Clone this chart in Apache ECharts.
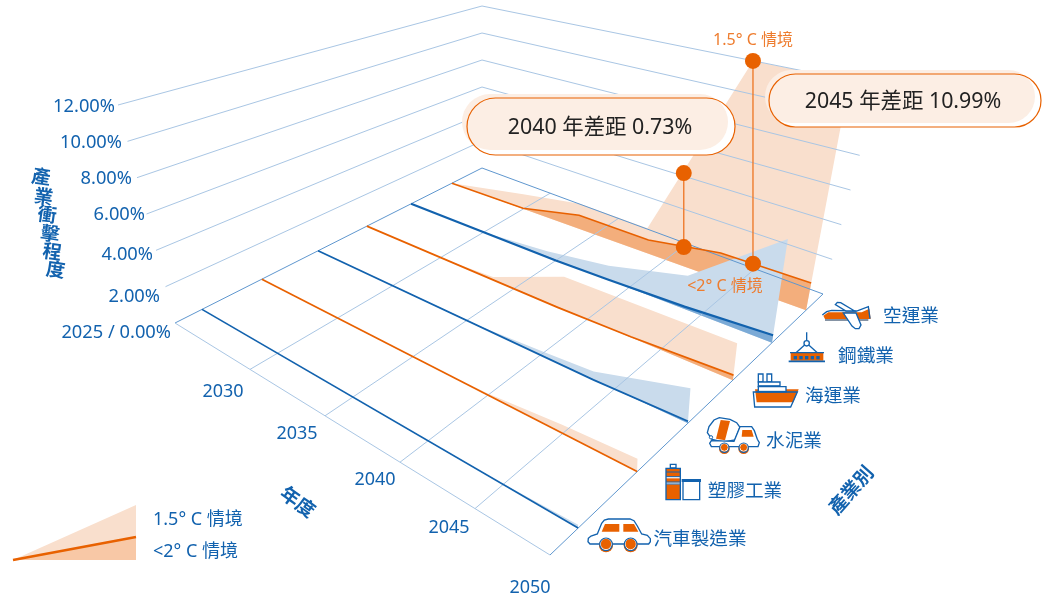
<!DOCTYPE html>
<html><head><meta charset="utf-8">
<script src="https://cdn.jsdelivr.net/npm/echarts@6/dist/echarts.min.js"></script>
<style>html,body{margin:0;padding:0;background:#fff}#c{width:1051px;height:598px}</style></head>
<body><div id="c"></div>
<script>
// ---------- data ----------
const industries = ['汽車製造業','塑膠工業','水泥業','海運業','鋼鐵業','空運業'];
const yearTicks = [2025,2030,2035,2040,2045,2050];
const valueTicks = [2,4,6,8,10,12];
const valueTickLabels = ['2.00%','4.00%','6.00%','8.00%','10.00%','12.00%'];
const yearLabels = ['2030','2035','2040','2045','2050'];
const carLow = [[2025,0],[2050,0.01]];
const carHigh = [[2025,0],[2043,0],[2050,0.16]];
const plasticLow = [[2025,0],[2050,0.01]];
const plasticHigh = [[2025,0],[2035,0],[2040,0.13],[2045,0.47],[2050,0.65]];
const cementLow = [[2025,0],[2043.6,0],[2050,0.1]];
const cementHigh = [[2025,0],[2035,0],[2040.5,0.28],[2043.6,0.45],[2050,1.81]];
const shippingLow = [[2025,0],[2038,0],[2043,0.07],[2050,0.27]];
const shippingHigh = [[2025,0],[2030,0],[2033.6,0.19],[2038.4,1.94],[2050,1.98]];
const steelLow = [[2025,0],[2035,0],[2038.6,0.06],[2043.9,0.18],[2050,0.42]];
const steelHigh = [[2025,0],[2030,0],[2034.4,0.38],[2038.6,0.9],[2043.9,1.98],[2050,5.74]];
const airLow = [[2025,0],[2030,0.06],[2033.9,0.92],[2038.75,0.88],[2043.7,1.56],[2050,1.54]];
const airHigh = [[2025,0],[2030,1.02],[2033.9,1.68],[2038.6,1.57],[2044,13.14],[2050,13.1]];
const gap2040 = {highYear:2040.6, high:5.57, lowYear:2041.15, low:1.17, text:'2040 年差距 0.73%'};
const gap2045 = {highYear:2044, high:13.14, lowYear:2045.95, low:1.56, text:'2045 年差距 10.99%'};
const scenarioHighName = '1.5° C 情境';
const scenarioLowName = '<2° C 情境';
const rowsLow = [carLow,plasticLow,cementLow,shippingLow,steelLow,airLow];
const rowsHigh = [carHigh,plasticHigh,cementHigh,shippingHigh,steelHigh,airHigh];

// ---------- layout / style ----------
const ORANGE='#e86100', BLUE='#1262ae', TEXT='#1262ae';
const PALE_O='#f9dfcd', DARK_O='#f3ae7c', PALE_B='#c9dbec', DARK_B='#7baad6';
const GRID_L='#a9c6e4', GRID_M='#5f97cf';
const rowColors=[BLUE,ORANGE,BLUE,ORANGE,BLUE,ORANGE];
const rowWidths=[1.7,1.7,1.8,1.7,2.2,1.6];
const rowVStart=[.088,.283,.466,.625,.769,.902];
const rowVEnd=[.103,.319,.505,.67,.813,.938];
const A=[175,323],B=[550,555],C=[482,168],D=[823,294];
const E=[118,105],F=[567,300],G=[482,6],H=[878,86];
const F2=[541,300],H2=[866,86];
const GX=0,GY=0,GW=500,GH=500;
const mix=(a,b,t)=>[a[0]+(b[0]-a[0])*t,a[1]+(b[1]-a[1])*t];
const quad=(a,b,c,d,u,v)=>mix(mix(a,b,u),mix(c,d,u),v);
function norm(api,year,value){const p=api.coord([year,value]);return [(p[0]-GX)/GW,(GY+GH-p[1])/GH];}
function wallPt(api,year,value,v){const n=norm(api,year,value);
  return mix(quad(A,B,C,D,n[0],v),quad(E,F,G,H,n[0],v),n[1]);}
function ribbonPt(api,year,value,i){const n=norm(api,year,value);
  const v=rowVStart[i]+(rowVEnd[i]-rowVStart[i])*n[0];
  return mix(quad(A,B,C,D,n[0],v),quad(E,F2,G,H2,n[0],v),n[1]);}

function areaSeries(pairs,i,color){return {type:'custom',coordinateSystem:'cartesian2d',data:pairs,encode:{x:0,y:1},silent:true,clip:false,
  renderItem(params,api){ if(params.dataIndex!==0) return null;
    const pts=pairs.map(d=>ribbonPt(api,d[0],d[1],i));
    pts.push(ribbonPt(api,2050,0,i));
    return {type:'polygon',shape:{points:pts},style:{fill:color}};}};}
function lineSeries(pairs,i,color){return {type:'custom',coordinateSystem:'cartesian2d',data:pairs,encode:{x:0,y:1},silent:true,clip:false,
  renderItem(params,api){ if(params.dataIndex!==0) return null;
    return {type:'polyline',shape:{points:pairs.map(d=>ribbonPt(api,d[0],d[1],i))},style:{stroke:color,lineWidth:rowWidths[i],fill:null}};}};}

const series=[];
for(let i=5;i>=0;i--){
  const pale=rowColors[i]===ORANGE?PALE_O:PALE_B, dark=rowColors[i]===ORANGE?DARK_O:DARK_B;
  series.push(areaSeries(rowsHigh[i],i,pale));
  series.push(areaSeries(rowsLow[i],i,dark));
}
// walls
series.push({type:'custom',coordinateSystem:'cartesian2d',silent:true,clip:false,data:valueTicks.map(v=>[2025,v]),encode:{x:0,y:1},
  renderItem(p,api){const val=api.value(1);
    return {type:'polyline',shape:{points:[wallPt(api,2025,val,0),wallPt(api,2025,val,1),wallPt(api,2050,val,1)]},style:{stroke:GRID_L,lineWidth:1,fill:null}};}});
// floor year lines
series.push({type:'custom',coordinateSystem:'cartesian2d',silent:true,clip:false,data:yearTicks.map(y=>[y,0]),encode:{x:0,y:1},
  renderItem(p,api){const y=api.value(0),edge=(y===2025||y===2050);
    const a=wallPt(api,y,0,0),b=wallPt(api,y,0,1);
    return {type:'line',shape:{x1:a[0],y1:a[1],x2:b[0],y2:b[1]},style:{stroke:edge?GRID_M:GRID_L,lineWidth:1}};}});
// floor depth edges
series.push({type:'custom',coordinateSystem:'cartesian2d',silent:true,clip:false,data:[[2025,0],[2025,1]],encode:{x:0,y:1},
  renderItem(p,api){const v=api.value(1);const a=wallPt(api,2025,0,v),b=wallPt(api,2050,0,v);
    return {type:'line',shape:{x1:a[0],y1:a[1],x2:b[0],y2:b[1]},style:{stroke:v?GRID_M:GRID_L,lineWidth:1}};}});
for(let i=5;i>=0;i--) series.push(lineSeries(rowsLow[i],i,rowColors[i]));
// gap markers
const gaps=[gap2040,gap2045];
series.push({type:'custom',coordinateSystem:'cartesian2d',silent:true,clip:false,z:5,data:gaps.map(g=>[g.highYear,g.high]),encode:{x:0,y:1},
  renderItem(p,api){const g=gaps[p.dataIndex];
    const a=ribbonPt(api,g.highYear,g.high,5),b=ribbonPt(api,g.lowYear,g.low,5);
    const style={fill:ORANGE};
    return {type:'group',children:[
      {type:'line',shape:{x1:a[0],y1:a[1],x2:a[0],y2:b[1]},style:{stroke:'#ee7c2e',lineWidth:1.4}},
      {type:'circle',shape:{cx:a[0],cy:a[1],r:8},style},
      {type:'circle',shape:{cx:a[0],cy:b[1],r:8},style}]};}});

// ---------- decoration ----------
const FONT='"Noto Sans","Noto Sans CJK TC",sans-serif';
const Z=100;
function T(text,x,y,size,o={}){return {type:'text',x,y:y+1,z:Z,rotation:o.rot||0,silent:true,
  style:{text,x:0,y:0,fill:o.fill||TEXT,align:o.align||'center',verticalAlign:'middle',font:(o.bold?'bold ':'')+size+'px '+FONT}};}
function pill(x,y,w,h,fill,stroke){return {type:'rect',z:Z,silent:true,shape:{x,y,width:w,height:h,r:h/2},style:{fill:fill||null,stroke:stroke||null,lineWidth:1.2}};}
const sc={x:560,y:280,s:1/3};
const poly=(pts,fill,stroke,lw)=>({type:'polygon',shape:{points:pts},style:{fill:fill||null,stroke:stroke||null,lineWidth:lw||5}});
const pl=(pts,stroke,lw)=>({type:'polyline',shape:{points:pts},style:{fill:null,stroke,lineWidth:lw||5}});
const rc=(x,y,w,h,fill,stroke,lw)=>({type:'rect',shape:{x,y,width:w,height:h},style:{fill:fill||null,stroke:stroke||null,lineWidth:lw||5}});
const ci=(cx,cy,r,fill,stroke,lw)=>({type:'circle',shape:{cx,cy,r},style:{fill:fill||null,stroke:stroke||null,lineWidth:lw||5}});
function wheel(cx,cy,r){return [ci(cx,cy+3,r+3,ORANGE),ci(cx,cy-1,r-1,ORANGE,'#fff',3),ci(cx,cy,r+1,null,BLUE,3.5)];}
const icons={type:'group',x:sc.x,y:sc.y,scaleX:sc.s,scaleY:sc.s,z:Z,silent:true,children:[
  // plane
  poly([[790,107],[805,97],[905,97],[928,86],[932,117],[795,117]],ORANGE),
  pl([[795,120],[925,120]],'#5d6f86',4),
  pl([[787,105],[800,95],[815,91],[890,93],[925,80],[930,116]],BLUE,4),
  poly([[826,74],[832,67],[842,68],[884,93],[858,93]],'#fff',BLUE,4),
  poly([[850,99],[888,99],[903,135],[897,146],[886,146],[876,138]],'#fff',BLUE,4),
  // steel
  pl([[740,157],[740,182]],BLUE,4), ci(740,190,8,'#fff',BLUE,4),
  pl([[733,196],[708,218]],BLUE,4), pl([[747,196],[772,218]],BLUE,4),
  rc(692,218,98,24,ORANGE), pl([[690,218],[792,218]],BLUE,4), pl([[686,244],[795,244]],BLUE,5),
  rc(701,228,10,10,BLUE),rc(718,228,10,10,BLUE),rc(735,228,10,10,BLUE),rc(752,228,10,10,BLUE),rc(769,228,10,10,BLUE),
  // ship
  poly([[585,328],[716,328],[700,367],[590,367]],ORANGE),
  poly([[580,336],[712,336],[692,381],[584,381]],null,BLUE,4),
  rc(595,282,14,24,null,BLUE,4), rc(621,282,14,24,null,BLUE,4),
  rc(595,306,65,14,'#fff',BLUE,4), rc(595,320,83,15,'#fff',BLUE,4),
  pl([[595,318],[660,318]],BLUE,5), pl([[590,335],[680,335]],BLUE,5),
  // mixer
  poly([[442,458],[447,440],[462,420],[478,413],[510,418],[530,428],[540,442],[525,480],[490,486],[456,478]],'#fff',BLUE,4),
  poly([[482,420],[510,423],[495,481],[468,476]],ORANGE),
  poly([[540,440],[575,440],[583,452],[592,478],[598,488],[594,500],[454,500],[449,490],[454,482],[522,484]],'#fff',BLUE,4),
  poly([[547,450],[575,450],[581,470],[545,470]],ORANGE),
  ci(453,472,5,'#fff',BLUE,3),
  ...wheel(493,503,13), ...wheel(551,503,13),
  // plastic
  rc(318,565,43,92,ORANGE),
  rc(318,590,43,5,'#fff',null), rc(318,607,43,6,'#fff',null),
  pl([[318,576],[361,576]],BLUE,3), pl([[318,590],[361,590]],BLUE,3), pl([[318,606],[361,606]],BLUE,3),pl([[318,612],[361,612]],BLUE,3),
  rc(331,553,17,11,null,BLUE,4), rc(318,565,43,94,null,BLUE,4),
  rc(369,603,50,56,'#fff',BLUE,4), rc(365,597,58,9,BLUE),
  // car
  poly([[84,785],[85,775],[93,768],[112,762],[125,730],[133,720],[145,717],[210,717],[222,722],[232,738],[245,762],[262,766],[271,776],[271,785],[266,792],[90,792]],'#fff',BLUE,4),
  poly([[135,732],[178,732],[178,755],[125,755]],ORANGE),
  poly([[190,732],[222,732],[235,755],[190,755]],ORANGE),
  ...wheel(138,793,18), ...wheel(212,793,18)
]};
const legend={type:'group',z:Z,silent:true,children:[
  {type:'polygon',shape:{points:[[13,560],[136,505],[136,560]]},style:{fill:PALE_O}},
  {type:'polygon',shape:{points:[[13,560],[136,537],[136,560]]},style:{fill:'#f8c8a6'}},
  {type:'line',shape:{x1:13,y1:560,x2:136,y2:537},style:{stroke:ORANGE,lineWidth:2.4}}
]};
const tickPos=[[160,296],[153,254],[145,214],[132,178],[122,142],[115,106]];
const yearPos=[[223,391],[297,433],[375,479],[449,527],[530,587]];
const indPos=[[700,539],[745,491],[794,441],[833,396],[866,356],[911,316]];
const titleChars=[['產',41,177],['業',43.5,197],['衝',47,215],['擊',50,234],['程',52,252],['度',55.5,270]];
const elements=[
  icons,legend,
  pill(467,98,268,57,'#fff'), pill(462,94,266,56,'#fceee4'), pill(467,98,268,57,null,ORANGE),
  pill(769,74,272,53,'#fff'), pill(765,70,270,53,'#fceee4'), pill(769,74,272,53,null,ORANGE),
  T(gap2040.text,600,127,21.4,{fill:'#222'}), T(gap2045.text,903,101,21.4,{fill:'#222'}),
  T(scenarioHighName,753,39,16,{fill:'#ee7c2e'}), T(scenarioLowName,725,285,16,{fill:'#ee7c2e'}),
  T(scenarioHighName,153,519,18,{align:'left'}), T(scenarioLowName,153,551,18,{align:'left'}),
  T('2025 / 0.00%',171,332,18.3,{align:'right'}),
  T('年度',297,502,19,{bold:true,rot:-0.62}),
  T('產業別',852,490,19,{bold:true,rot:0.85}),
  ...titleChars.map(c=>T(c[0],c[1],c[2],19,{bold:true,rot:-0.14})),
  ...valueTickLabels.map((t,i)=>T(t,tickPos[i][0],tickPos[i][1],18.3,{align:'right'})),
  ...yearLabels.map((t,i)=>T(t,yearPos[i][0],yearPos[i][1],18)),
  ...industries.map((t,i)=>T(t,indPos[i][0],indPos[i][1],18.6))
];
const chart=echarts.init(document.getElementById('c'),null,{renderer:'canvas'});
chart.setOption({animation:false,backgroundColor:'#fff',
  grid:{left:GX,top:GY,width:GW,height:GH,show:false},
  xAxis:{type:'value',min:2025,max:2050,interval:5,show:false},
  yAxis:{type:'value',min:0,max:12,interval:2,show:false},
  series,graphic:{elements}});
</script></body></html>
